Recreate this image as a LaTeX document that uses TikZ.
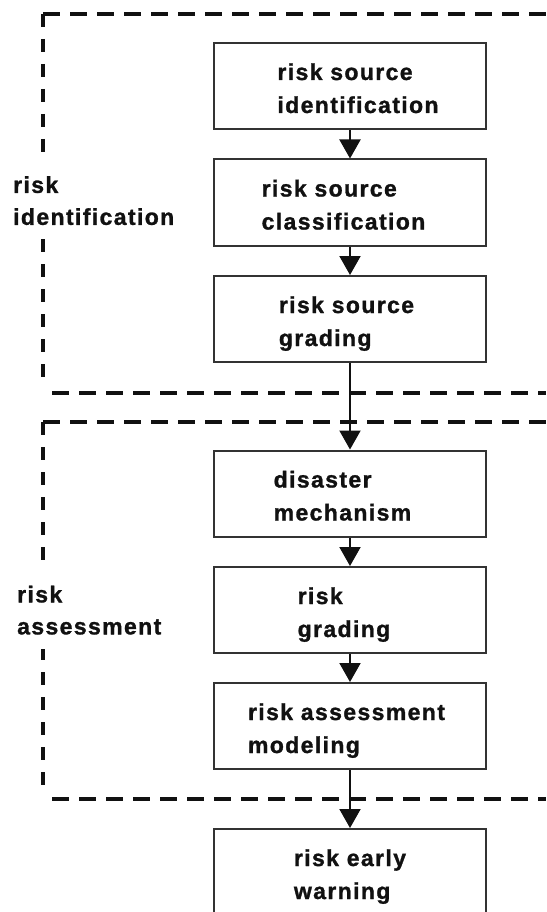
\documentclass[tikz,border=0pt]{standalone}
\usepackage{fontspec}
\setmainfont{Liberation Sans}[LetterSpace=6,Ligatures=NoCommon,FakeBold=1.2]
\usetikzlibrary{arrows.meta}
\definecolor{ink}{HTML}{111111}
\definecolor{edge}{HTML}{333333}
\newcommand\toprule{\rule{0pt}{26pt}}
\newcommand\botrule{\rule[-5pt]{0pt}{5pt}}
\begin{document}
\begin{tikzpicture}[x=1pt,y=-1pt,
  stepbox/.style={draw=edge, line width=2pt, minimum width=272pt, minimum height=86pt,
    inner sep=0pt, align=left, text=ink, font=\fontsize{23}{33}\selectfont\bfseries},
  sidelabel/.style={anchor=north west, align=left, fill=white, inner xsep=4pt, inner ysep=14pt, text=ink,
    font=\fontsize{23}{32}\selectfont\bfseries},
  flow/.style={line width=2pt, draw=ink, -{Triangle[width=21pt,length=19pt]}},
  hdash/.style={line width=4pt, draw=ink, dash pattern=on 17pt off 10pt},
  vdash/.style={line width=4pt, draw=ink, dash pattern=on 13pt off 12pt}]
\useasboundingbox (0,0) rectangle (546,912);
% frames
\coordinate (f1tl) at (43,14);
\coordinate (f1tr) at (546,14);
\coordinate (f1lb) at (43,385);
\coordinate (f1bl) at (52,393);
\coordinate (f1br) at (546,393);
\coordinate (f2tl) at (43,422);
\coordinate (f2tr) at (546,422);
\coordinate (f2lb) at (43,793);
\coordinate (f2bl) at (52,799);
\coordinate (f2br) at (546,799);
\draw[hdash] (f1tl) -- (f1tr);
\draw[vdash] (f1tl) -- (f1lb);
\draw[hdash] (f1bl) -- (f1br);
\draw[hdash] (f2tl) -- (f2tr);
\draw[vdash] (f2tl) -- (f2lb);
\draw[hdash] (f2bl) -- (f2br);
% side labels
\node[sidelabel] (lid) at (9,162) {risk\\identification};
\node[sidelabel] (las) at (13,571.5) {risk\\assessment};
% boxes
\node[stepbox] (b1) at (350,86) {\toprule\hspace*{16pt}risk source\\\hspace*{16pt}identification\botrule};
\node[stepbox] (b2) at (350,202.5) {\toprule risk source\\classification\hspace*{13pt}\botrule};
\node[stepbox] (b3) at (350,319) {\toprule risk source\hspace*{7pt}\\grading\botrule};
\node[stepbox] (b4) at (350,493.5) {\toprule disaster\\mechanism\hspace*{15pt}\botrule};
\node[stepbox] (b5) at (350,610) {\toprule risk\\grading\hspace*{12pt}\botrule};
\node[stepbox] (b6) at (350,726) {\toprule risk assessment\hspace*{7pt}\\modeling\botrule};
\node[stepbox] (b7) at (350,872) {\toprule risk early\\warning\botrule};
% arrows
\draw[flow] (b1) -- (b2);
\draw[flow] (b2) -- (b3);
\draw[flow] (b3) -- (b4);
\draw[flow] (b4) -- (b5);
\draw[flow] (b5) -- (b6);
\draw[flow] (b6) -- (b7);
\end{tikzpicture}
\end{document}
